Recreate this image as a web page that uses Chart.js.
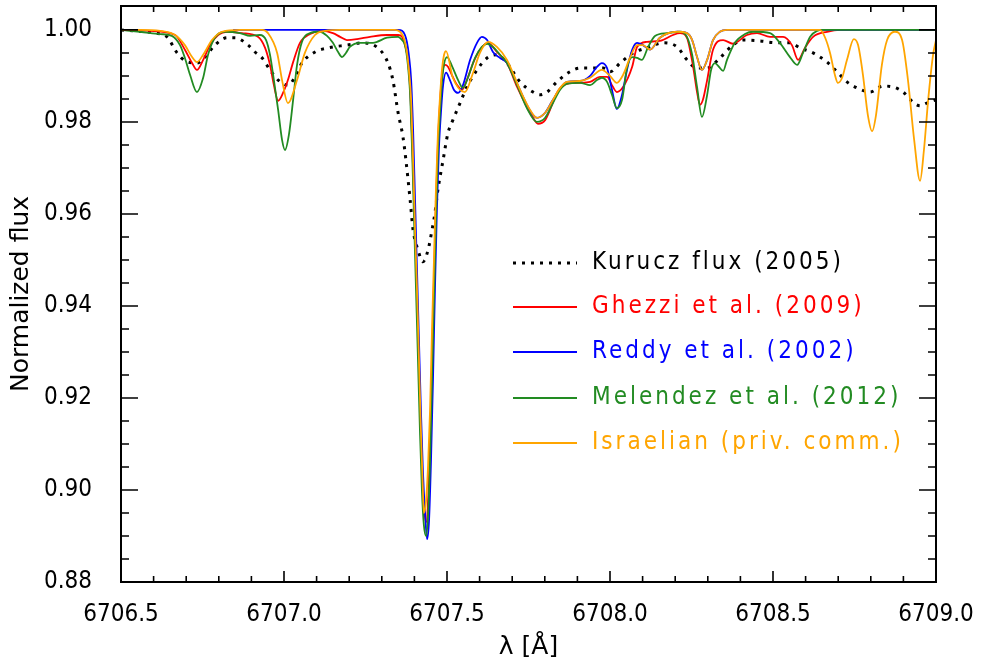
<!DOCTYPE html>
<html>
<head>
<meta charset="utf-8">
<script src="https://cdn.jsdelivr.net/npm/chart.js@4.4.1/dist/chart.umd.min.js"></script>
<style>
  html, body { margin: 0; padding: 0; background: #fff; }
  #wrap { width: 987px; height: 668px; }
</style>
</head>
<body>
<div id="wrap"><canvas id="specChart" width="987" height="668"></canvas></div>
<script>
// [wavelength (A), normalized flux]
const kurucz = [
  [6706.500, 1.0000], [6706.604, 0.9993], [6706.641, 0.9985], [6706.672, 0.9950], [6706.696, 0.9933],
  [6706.733, 0.9928], [6706.758, 0.9941], [6706.788, 0.9967], [6706.825, 0.9983], [6706.850, 0.9983],
  [6706.890, 0.9967], [6706.911, 0.9952], [6706.933, 0.9939], [6706.957, 0.9913], [6706.982, 0.9891],
  [6707.012, 0.9880], [6707.034, 0.9898], [6707.055, 0.9928], [6707.095, 0.9952], [6707.135, 0.9961],
  [6707.193, 0.9967], [6707.242, 0.9972], [6707.294, 0.9957], [6707.319, 0.9928], [6707.334, 0.9891],
  [6707.350, 0.9820], [6707.365, 0.9767], [6707.374, 0.9717], [6707.387, 0.9630], [6707.396, 0.9565],
  [6707.411, 0.9522], [6707.426, 0.9496], [6707.442, 0.9522], [6707.454, 0.9565], [6707.463, 0.9602],
  [6707.472, 0.9652], [6707.488, 0.9717], [6707.503, 0.9776], [6707.518, 0.9804], [6707.540, 0.9841],
  [6707.561, 0.9876], [6707.592, 0.9913], [6707.623, 0.9939], [6707.653, 0.9946], [6707.684, 0.9928],
  [6707.724, 0.9887], [6707.764, 0.9865], [6707.785, 0.9859], [6707.807, 0.9865], [6707.837, 0.9887],
  [6707.877, 0.9909], [6707.908, 0.9917], [6707.979, 0.9917], [6708.000, 0.9909], [6708.031, 0.9928],
  [6708.071, 0.9950], [6708.113, 0.9961], [6708.163, 0.9972], [6708.206, 0.9963], [6708.236, 0.9935],
  [6708.267, 0.9917], [6708.298, 0.9917], [6708.337, 0.9939], [6708.377, 0.9967], [6708.408, 0.9978],
  [6708.460, 0.9976], [6708.512, 0.9972], [6708.552, 0.9972], [6708.583, 0.9961], [6708.623, 0.9950],
  [6708.666, 0.9930], [6708.699, 0.9907], [6708.727, 0.9887], [6708.758, 0.9874], [6708.798, 0.9865],
  [6708.837, 0.9878], [6708.868, 0.9876], [6708.899, 0.9865], [6708.929, 0.9843], [6708.951, 0.9835],
  [6708.972, 0.9841], [6709.000, 0.9848]
];

const ghezzi = [
  [6706.500, 1.0000], [6706.589, 0.9998], [6706.666, 0.9989], [6706.696, 0.9957], [6706.718, 0.9928],
  [6706.733, 0.9913], [6706.752, 0.9935], [6706.773, 0.9967], [6706.798, 0.9989], [6706.828, 0.9996],
  [6706.871, 0.9993], [6706.920, 0.9985], [6706.942, 0.9961], [6706.957, 0.9924], [6706.969, 0.9880],
  [6706.982, 0.9846], [6706.997, 0.9863], [6707.012, 0.9891], [6707.028, 0.9930], [6707.049, 0.9972],
  [6707.080, 0.9991], [6707.117, 0.9998], [6707.150, 0.9993], [6707.172, 0.9985], [6707.193, 0.9978],
  [6707.224, 0.9980], [6707.264, 0.9985], [6707.316, 0.9989], [6707.350, 0.9989], [6707.362, 0.9985],
  [6707.371, 0.9967], [6707.380, 0.9935], [6707.387, 0.9870], [6707.393, 0.9761], [6707.399, 0.9630],
  [6707.405, 0.9500], [6707.411, 0.9348], [6707.417, 0.9196], [6707.423, 0.9065], [6707.429, 0.8967],
  [6707.436, 0.8930], [6707.442, 0.8978], [6707.448, 0.9109], [6707.454, 0.9283], [6707.460, 0.9457],
  [6707.466, 0.9620], [6707.472, 0.9750], [6707.479, 0.9848], [6707.485, 0.9902], [6707.494, 0.9924],
  [6707.503, 0.9920], [6707.515, 0.9902], [6707.531, 0.9880], [6707.546, 0.9870], [6707.561, 0.9891],
  [6707.580, 0.9928], [6707.601, 0.9957], [6707.626, 0.9972], [6707.653, 0.9952], [6707.684, 0.9928],
  [6707.715, 0.9876], [6707.745, 0.9833], [6707.764, 0.9809], [6707.779, 0.9796], [6707.801, 0.9804],
  [6707.822, 0.9837], [6707.837, 0.9863], [6707.868, 0.9883], [6707.908, 0.9885], [6707.939, 0.9887],
  [6707.969, 0.9898], [6707.991, 0.9898], [6708.006, 0.9880], [6708.021, 0.9865], [6708.040, 0.9876],
  [6708.068, 0.9920], [6708.083, 0.9963], [6708.113, 0.9974], [6708.153, 0.9976], [6708.193, 0.9989],
  [6708.215, 0.9993], [6708.236, 0.9983], [6708.255, 0.9920], [6708.267, 0.9865], [6708.276, 0.9837],
  [6708.285, 0.9848], [6708.298, 0.9891], [6708.316, 0.9957], [6708.347, 0.9978], [6708.377, 0.9970],
  [6708.420, 0.9989], [6708.451, 0.9993], [6708.491, 0.9985], [6708.531, 0.9985], [6708.558, 0.9967],
  [6708.577, 0.9935], [6708.598, 0.9961], [6708.623, 0.9985], [6708.666, 0.9996], [6708.706, 1.0000],
  [6709.000, 1.0000]
];

const reddy = [
  [6706.844, 1.0000], [6707.350, 1.0000], [6707.362, 0.9998], [6707.371, 0.9989], [6707.377, 0.9974],
  [6707.383, 0.9946], [6707.390, 0.9891], [6707.396, 0.9783], [6707.402, 0.9630], [6707.408, 0.9478],
  [6707.414, 0.9326], [6707.420, 0.9174], [6707.426, 0.9043], [6707.433, 0.8946], [6707.439, 0.8893],
  [6707.445, 0.8935], [6707.451, 0.9065], [6707.457, 0.9239], [6707.463, 0.9435], [6707.469, 0.9609],
  [6707.475, 0.9739], [6707.482, 0.9826], [6707.488, 0.9880], [6707.497, 0.9907], [6707.509, 0.9891],
  [6707.521, 0.9870], [6707.534, 0.9863], [6707.549, 0.9880], [6707.571, 0.9935], [6707.592, 0.9972],
  [6707.607, 0.9985], [6707.623, 0.9978], [6707.641, 0.9952], [6707.663, 0.9939], [6707.684, 0.9928],
  [6707.715, 0.9883], [6707.745, 0.9837], [6707.764, 0.9815], [6707.776, 0.9809], [6707.801, 0.9820],
  [6707.825, 0.9848], [6707.868, 0.9887], [6707.908, 0.9889], [6707.939, 0.9900], [6707.957, 0.9917],
  [6707.975, 0.9928], [6707.991, 0.9917], [6708.006, 0.9870], [6708.021, 0.9828], [6708.037, 0.9859],
  [6708.052, 0.9913], [6708.068, 0.9957], [6708.083, 0.9972], [6708.101, 0.9967], [6708.123, 0.9957],
  [6708.153, 0.9983], [6708.206, 0.9996], [6708.236, 0.9993], [6708.252, 0.9978], [6708.267, 0.9941],
  [6708.282, 0.9913], [6708.298, 0.9935], [6708.316, 0.9978], [6708.337, 0.9996], [6708.359, 1.0000],
  [6709.000, 1.0000]
];

const melendez = [
  [6706.500, 1.0000], [6706.558, 0.9996], [6706.620, 0.9991], [6706.656, 0.9987], [6706.681, 0.9967],
  [6706.696, 0.9939], [6706.712, 0.9902], [6706.733, 0.9865], [6706.752, 0.9896], [6706.767, 0.9946],
  [6706.788, 0.9983], [6706.819, 0.9996], [6706.865, 0.9993], [6706.896, 0.9987], [6706.926, 0.9989],
  [6706.945, 0.9978], [6706.957, 0.9946], [6706.969, 0.9891], [6706.982, 0.9826], [6706.994, 0.9761],
  [6707.003, 0.9739], [6707.015, 0.9772], [6707.028, 0.9848], [6707.040, 0.9924], [6707.055, 0.9974],
  [6707.080, 0.9993], [6707.110, 0.9996], [6707.132, 0.9987], [6707.150, 0.9972], [6707.166, 0.9952],
  [6707.178, 0.9941], [6707.190, 0.9950], [6707.202, 0.9963], [6707.233, 0.9972], [6707.273, 0.9972],
  [6707.316, 0.9983], [6707.350, 0.9985], [6707.362, 0.9978], [6707.371, 0.9967], [6707.380, 0.9924],
  [6707.387, 0.9859], [6707.393, 0.9739], [6707.399, 0.9587], [6707.405, 0.9435], [6707.411, 0.9283],
  [6707.417, 0.9130], [6707.423, 0.9000], [6707.429, 0.8924], [6707.436, 0.8900], [6707.442, 0.8946],
  [6707.448, 0.9065], [6707.454, 0.9239], [6707.460, 0.9413], [6707.466, 0.9587], [6707.472, 0.9728],
  [6707.479, 0.9826], [6707.485, 0.9891], [6707.491, 0.9926], [6707.500, 0.9941], [6707.515, 0.9922],
  [6707.534, 0.9891], [6707.549, 0.9874], [6707.564, 0.9896], [6707.586, 0.9939], [6707.607, 0.9963],
  [6707.623, 0.9970], [6707.641, 0.9963], [6707.663, 0.9946], [6707.684, 0.9928], [6707.715, 0.9880],
  [6707.745, 0.9830], [6707.776, 0.9800], [6707.801, 0.9809], [6707.825, 0.9841], [6707.847, 0.9870],
  [6707.868, 0.9883], [6707.908, 0.9885], [6707.939, 0.9880], [6707.960, 0.9891], [6707.975, 0.9896],
  [6707.991, 0.9887], [6708.006, 0.9859], [6708.021, 0.9830], [6708.037, 0.9848], [6708.052, 0.9917],
  [6708.068, 0.9941], [6708.083, 0.9939], [6708.098, 0.9935], [6708.117, 0.9963], [6708.138, 0.9987],
  [6708.175, 0.9993], [6708.215, 0.9996], [6708.236, 0.9985], [6708.252, 0.9946], [6708.267, 0.9876],
  [6708.282, 0.9811], [6708.298, 0.9859], [6708.310, 0.9913], [6708.322, 0.9928], [6708.334, 0.9920],
  [6708.347, 0.9911], [6708.359, 0.9935], [6708.383, 0.9972], [6708.414, 0.9991], [6708.439, 0.9996],
  [6708.491, 0.9993], [6708.521, 0.9972], [6708.552, 0.9941], [6708.574, 0.9924], [6708.592, 0.9950],
  [6708.614, 0.9985], [6708.635, 0.9998], [6708.653, 1.0000], [6709.000, 1.0000]
];

const israelian = [
  [6706.500, 1.0000], [6706.558, 1.0000], [6706.620, 0.9998], [6706.666, 0.9989], [6706.696, 0.9967],
  [6706.718, 0.9941], [6706.733, 0.9930], [6706.752, 0.9946], [6706.779, 0.9978], [6706.810, 0.9996],
  [6706.865, 1.0000], [6706.933, 1.0000], [6706.951, 0.9993], [6706.979, 0.9950], [6706.994, 0.9891],
  [6707.012, 0.9841], [6707.040, 0.9891], [6707.064, 0.9950], [6707.095, 0.9989], [6707.126, 0.9998],
  [6707.172, 1.0000], [6707.340, 1.0000], [6707.356, 0.9996], [6707.365, 0.9987], [6707.371, 0.9974],
  [6707.377, 0.9952], [6707.383, 0.9913], [6707.390, 0.9848], [6707.396, 0.9717], [6707.402, 0.9565],
  [6707.408, 0.9435], [6707.414, 0.9283], [6707.420, 0.9130], [6707.426, 0.9000], [6707.429, 0.8950],
  [6707.436, 0.8978], [6707.442, 0.9054], [6707.448, 0.9174], [6707.454, 0.9348], [6707.460, 0.9500],
  [6707.466, 0.9652], [6707.472, 0.9772], [6707.479, 0.9859], [6707.485, 0.9917], [6707.491, 0.9946],
  [6707.497, 0.9954], [6707.518, 0.9896], [6707.555, 0.9865], [6707.580, 0.9907], [6707.601, 0.9950],
  [6707.626, 0.9974], [6707.653, 0.9963], [6707.684, 0.9935], [6707.724, 0.9870], [6707.755, 0.9826],
  [6707.776, 0.9809], [6707.801, 0.9820], [6707.825, 0.9848], [6707.847, 0.9874], [6707.868, 0.9887],
  [6707.908, 0.9889], [6707.939, 0.9896], [6707.975, 0.9913], [6708.000, 0.9900], [6708.021, 0.9885],
  [6708.040, 0.9902], [6708.061, 0.9939], [6708.083, 0.9967], [6708.101, 0.9967], [6708.123, 0.9957],
  [6708.153, 0.9983], [6708.206, 0.9996], [6708.236, 0.9993], [6708.252, 0.9978], [6708.267, 0.9941],
  [6708.282, 0.9913], [6708.298, 0.9935], [6708.316, 0.9978], [6708.337, 0.9996], [6708.359, 1.0000],
  [6708.644, 1.0000], [6708.660, 0.9983], [6708.675, 0.9950], [6708.690, 0.9902], [6708.699, 0.9885],
  [6708.712, 0.9896], [6708.727, 0.9935], [6708.748, 0.9980], [6708.761, 0.9967], [6708.776, 0.9902],
  [6708.791, 0.9815], [6708.804, 0.9780], [6708.816, 0.9815], [6708.834, 0.9924], [6708.850, 0.9978],
  [6708.874, 0.9996], [6708.896, 0.9978], [6708.914, 0.9891], [6708.933, 0.9761], [6708.951, 0.9672],
  [6708.963, 0.9739], [6708.976, 0.9848], [6708.991, 0.9946], [6709.000, 0.9978]
];

const seriesLabels = ['Kurucz flux (2005)', 'Ghezzi et al. (2009)', 'Reddy et al. (2002)',
                      'Melendez et al. (2012)', 'Israelian (priv. comm.)'];
const xTickValues = [6706.5, 6707.0, 6707.5, 6708.0, 6708.5, 6709.0];
const yTickValues = [0.88, 0.90, 0.92, 0.94, 0.96, 0.98, 1.00];

const FONT = "'DejaVu Sans Condensed', 'DejaVu Sans', sans-serif";
const TITLE_FONT = "'DejaVu Sans', sans-serif";

const toPoints = arr => arr.map(p => ({ x: p[0], y: p[1] }));

const styles = [
  { color: '#000000', width: 3, dash: [3, 6], order: 4 },
  { color: '#ff0000', width: 1.8, dash: [], order: 3 },
  { color: '#0000ff', width: 1.8, dash: [], order: 2 },
  { color: '#228b22', width: 1.8, dash: [], order: 1 },
  { color: '#ffa500', width: 1.8, dash: [], order: 0 }
];

const allSeries = [kurucz, ghezzi, reddy, melendez, israelian];

const datasets = allSeries.map((s, i) => ({
  label: seriesLabels[i],
  data: toPoints(s),
  borderColor: styles[i].color,
  borderWidth: styles[i].width,
  borderDash: styles[i].dash,
  order: styles[i].order,
  showLine: true,
  pointRadius: 0,
  fill: false,
  cubicInterpolationMode: 'monotone'
}));

// box with inward major/minor ticks on all four sides, plus the legend in the plot
const framePlugin = {
  id: 'frame',
  afterDatasetsDraw(chart) {
    const { ctx, chartArea: a, scales } = chart;
    const xs = scales.x, ys = scales.y;
    ctx.save();
    ctx.strokeStyle = '#000';
    ctx.lineWidth = 1.6;
    ctx.setLineDash([]);
    ctx.beginPath();
    for (let i = 0; i <= 25; i++) {
      const px = xs.getPixelForValue(6706.5 + i * 0.1);
      const len = i % 5 === 0 ? 11 : 6;
      ctx.moveTo(px, a.bottom); ctx.lineTo(px, a.bottom - len);
      ctx.moveTo(px, a.top); ctx.lineTo(px, a.top + len);
    }
    for (let i = 0; i <= 24; i++) {
      const py = ys.getPixelForValue(0.88 + i * 0.005);
      const len = i % 4 === 0 ? 17 : 8;
      ctx.moveTo(a.left, py); ctx.lineTo(a.left + len, py);
      ctx.moveTo(a.right, py); ctx.lineTo(a.right - len, py);
    }
    ctx.stroke();
    ctx.lineWidth = 2;
    ctx.strokeRect(a.left, a.top, a.right - a.left, a.bottom - a.top);

    // legend
    const rowY = [263, 307, 352, 398, 443];
    ctx.font = '24px ' + FONT;
    ctx.textBaseline = 'middle';
    ctx.letterSpacing = '3px';
    chart.data.datasets.forEach((ds, i) => {
      ctx.beginPath();
      ctx.strokeStyle = ds.borderColor;
      ctx.lineWidth = i === 0 ? 3 : 1.8;
      ctx.setLineDash(i === 0 ? [3, 6] : []);
      ctx.moveTo(513, rowY[i]);
      ctx.lineTo(577, rowY[i]);
      ctx.stroke();
      ctx.fillStyle = ds.borderColor;
      ctx.fillText(ds.label, 592, rowY[i]);
    });
    ctx.restore();
  }
};

const ctx = document.getElementById('specChart').getContext('2d');
const myChart = new Chart(ctx, {
  type: 'scatter',
  data: { datasets },
  options: {
    responsive: false,
    animation: false,
    devicePixelRatio: 1,
    layout: { padding: { top: 6, right: 51, left: 0, bottom: 0 } },
    plugins: { legend: { display: false }, tooltip: { enabled: false } },
    scales: {
      x: {
        type: 'linear',
        min: 6706.5,
        max: 6709.0,
        afterFit: s => { s.height = 86; s.paddingLeft = 0; s.paddingRight = 0; },
        afterBuildTicks: s => { s.ticks = xTickValues.map(v => ({ value: v })); },
        grid: { display: false },
        border: { display: false },
        ticks: {
          color: '#000', padding: 10, maxRotation: 0, autoSkip: false,
          font: { family: FONT, size: 24 },
          callback: v => Number(v).toFixed(1)
        },
        title: {
          display: true, text: 'λ [Å]', color: '#000',
          font: { family: TITLE_FONT, size: 25 }, padding: { top: 0, bottom: 6 }
        }
      },
      y: {
        type: 'linear',
        min: 0.88,
        max: 1.0052,
        afterFit: s => { s.width = 121; s.paddingTop = 0; s.paddingBottom = 0; },
        afterBuildTicks: s => { s.ticks = yTickValues.map(v => ({ value: v })); },
        grid: { display: false },
        border: { display: false },
        ticks: {
          color: '#000', padding: 21, autoSkip: false,
          font: { family: FONT, size: 24 },
          callback: v => Number(v).toFixed(2)
        },
        title: {
          display: true, text: 'Normalized flux', color: '#000',
          font: { family: TITLE_FONT, size: 25 }, padding: { top: 6, bottom: 0 }
        }
      }
    }
  },
  plugins: [framePlugin]
});
</script>
</body>
</html>
